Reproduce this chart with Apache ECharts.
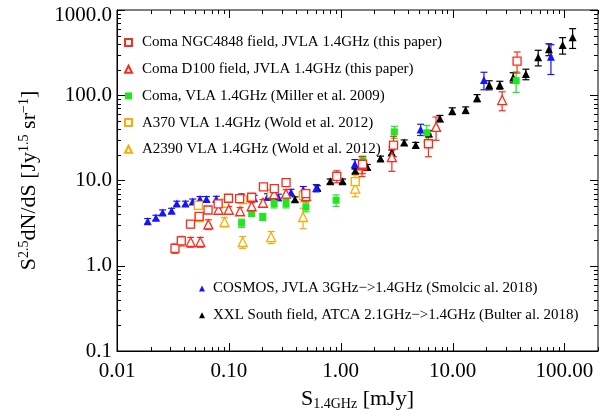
<!DOCTYPE html>
<html>
<head>
<meta charset="UTF-8">
<title>counts</title>
<script src="https://cdn.jsdelivr.net/npm/echarts@6/dist/echarts.min.js"></script>
<style>
  html, body { margin: 0; padding: 0; background: #fff; }
  #main { width: 605px; height: 418px; }
</style>
</head>
<body>
<div id="main"></div>
<script type="text/javascript">
// --- data (x: mJy, y: S^2.5 dN/dS, err: +/- linear) ---
var cosmosX = [0.0188, 0.0223, 0.0256, 0.0308, 0.0342, 0.0409, 0.0475, 0.0552, 0.0631, 0.0773, 0.101, 0.130, 0.168, 0.222, 0.277, 0.360, 0.463, 0.605, 1.34, 5.19, 19.1, 75.9];
var cosmosY = [3.33, 3.66, 4.22, 4.42, 5.37, 5.37, 5.66, 6.08, 6.08, 6.08, 6.19, 6.45, 6.19, 6.45, 6.36, 7.28, 7.80, 8.16, 15.6, 39.7, 151, 283];
var cosmosErr = [0.25, 0.25, 0.3, 0.3, 0.35, 0.35, 0.4, 0.4, 0.4, 0.45, 0.5, 0.5, 0.5, 0.55, 0.55, 0.6, 0.7, 0.8, 2.0, 6, 35, 108];

var xxlX = [0.390, 0.618, 0.807, 1.04, 1.35, 1.73, 2.27, 2.86, 3.70, 4.69, 6.15, 7.72, 9.95, 13.1, 16.6, 21.3, 26.5, 34.9, 45.3, 58.4, 72.8, 96.5, 118.6];
var xxlY = [6.03, 8.18, 9.81, 9.81, 13.0, 14.4, 18.1, 21.3, 27.9, 26.0, 35.6, 53.5, 65.2, 67.0, 92.7, 131.8, 131.8, 162, 177, 279, 346, 389, 479];
var xxlErr = [0.4, 0.5, 0.6, 0.6, 0.8, 1.0, 1.2, 1.5, 2.0, 2.0, 3.0, 4.5, 6, 6, 9, 16, 14, 22, 25, 58, 55, 85, 125];

var redSqX = [0.0330, 0.0376, 0.0454, 0.0543, 0.0652, 0.0803, 0.0993, 0.125, 0.160, 0.204, 0.255, 0.325, 0.488, 0.923, 1.57, 2.97, 6.09, 37.8];
var redSqY = [1.60, 1.96, 3.08, 3.80, 4.51, 5.31, 6.19, 6.14, 6.36, 8.41, 8.01, 9.42, 7.03, 11.2, 15.5, 26.0, 27.0, 252];
var redSqErr = [0.2, 0.25, 0.3, 0.35, 0.4, 0.45, 0.5, 0.5, 0.5, 0.6, 0.6, 0.8, 0.8, 1.8, 3.5, 7, 8, 70];

var redTrX = [0.0456, 0.0556, 0.0656, 0.0809, 0.0998, 0.126, 0.160, 0.202, 0.254, 0.325, 0.491, 1.55, 2.87, 7.13, 27.8];
var redTrY = [1.90, 1.90, 3.06, 4.54, 4.54, 4.36, 4.99, 5.48, 6.90, 7.00, 6.54, 15.1, 18.8, 42.6, 87.8];
var redTrErr = [0.25, 0.25, 0.4, 0.4, 0.4, 0.45, 0.5, 0.5, 0.7, 0.8, 0.8, 4, 6, 13, 22];

var greenX = [0.130, 0.160, 0.201, 0.254, 0.325, 0.489, 0.910, 1.58, 3.02, 5.89, 37.1];
var greenY = [3.17, 4.09, 3.75, 5.37, 5.37, 4.89, 5.87, 17.0, 37.2, 36.2, 148];
var greenErr = [0.35, 0.3, 0.35, 0.6, 0.6, 0.6, 0.9, 2.3, 6, 8, 40];

var orSqX = [0.0534, 0.0544, 0.0920, 0.133, 0.241, 0.464, 1.35];
var orSqY = [5.12, 3.66, 5.41, 5.98, 7.00, 6.63, 9.68];
var orSqErr = [0.4, 0.3, 0.5, 0.6, 0.7, 1.0, 1.9];

var orTrX = [0.0915, 0.133, 0.239, 0.461, 1.35];
var orTrY = [3.26, 1.90, 2.17, 3.73, 8.05];
var orTrErr = [0.4, 0.3, 0.35, 1.0, 1.6];

var topLegend = [
    'Coma NGC4848 field, JVLA 1.4GHz (this paper)',
    'Coma D100 field, JVLA 1.4GHz (this paper)',
    'Coma, VLA 1.4GHz (Miller et al. 2009)',
    'A370 VLA 1.4GHz (Wold et al. 2012)',
    'A2390 VLA 1.4GHz (Wold et al. 2012)'
];
var bottomLegend = [
    'COSMOS, JVLA 3GHz\u2212>1.4GHz (Smolcic al. 2018)',
    'XXL South field, ATCA 2.1GHz\u2212>1.4GHz (Bulter al. 2018)'
];

var xTickMajor = [0.01, 0.1, 1, 10, 100];
var yTickMajor = [0.1, 1, 10, 100, 1000];
var xMin = 0.01, xMax = 200, yMin = 0.1, yMax = 1000;

var FONT = 'Liberation Serif';

function zip(xs, ys, es) {
    var out = [];
    for (var i = 0; i < xs.length; i++) out.push([xs[i], ys[i], es[i]]);
    return out;
}

function isDecade(v) {
    var l = Math.log10(v);
    return Math.abs(l - Math.round(l)) < 1e-6;
}

// tick marks on all four sides (minor ones at 2..9 x decade)
var tickData = [];
xTickMajor.forEach(function (d) {
    tickData.push([d, 1, 1]);
    for (var m = 2; m <= 9; m++) {
        var v = d * m;
        if (v <= xMax * 1.0001) tickData.push([v, 1, 0]);
    }
});
yTickMajor.forEach(function (d) {
    tickData.push([1, d, 3]);
    for (var m = 2; m <= 9; m++) {
        var v = d * m;
        if (v <= yMax * 1.0001) tickData.push([1, v, 2]);
    }
});

function renderTicks(params, api) {
    var cs = params.coordSys;
    var kind = api.value(2);
    var len = (kind === 1 || kind === 3) ? 8 : 4;
    var st = { stroke: '#000', lineWidth: 1 };
    if (kind < 2) {
        var px = Math.round(api.coord([api.value(0), 1])[0]) + 0.5;
        return { type: 'group', children: [
            { type: 'line', shape: { x1: px, y1: cs.y + cs.height, x2: px, y2: cs.y + cs.height - len }, style: st },
            { type: 'line', shape: { x1: px, y1: cs.y, x2: px, y2: cs.y + len }, style: st }
        ]};
    }
    var py = Math.round(api.coord([1, api.value(1)])[1]) + 0.5;
    return { type: 'group', children: [
        { type: 'line', shape: { x1: cs.x, y1: py, x2: cs.x + len, y2: py }, style: st },
        { type: 'line', shape: { x1: cs.x + cs.width, y1: py, x2: cs.x + cs.width - len, y2: py }, style: st }
    ]};
}

function errBars(color) {
    return function (params, api) {
        var x = api.value(0), y = api.value(1), e = api.value(2);
        var hi = api.coord([x, y + e]);
        var lo = api.coord([x, Math.max(y - e, yMin * 0.5)]);
        var cx = hi[0], w = 3.5;
        var st = { stroke: color, lineWidth: 1.2 };
        return { type: 'group', children: [
            { type: 'line', shape: { x1: cx, y1: hi[1], x2: cx, y2: lo[1] }, style: st },
            { type: 'line', shape: { x1: cx - w, y1: hi[1], x2: cx + w, y2: hi[1] }, style: st },
            { type: 'line', shape: { x1: cx - w, y1: lo[1], x2: cx + w, y2: lo[1] }, style: st }
        ]};
    };
}

function errSeries(data, color) {
    return {
        type: 'custom', renderItem: errBars(color), data: data,
        encode: { x: 0, y: 1 }, silent: true, z: 2
    };
}

function pointSeries(name, data, symbol, size, color, hollow) {
    return {
        name: name, type: 'scatter', data: data, symbol: symbol, symbolSize: size,
        encode: { x: 0, y: 1 },
        itemStyle: hollow ? { color: '#fff', borderColor: color, borderWidth: 1.3, opacity: 1 }
                          : { color: color, opacity: 1 },
        z: 3
    };
}

var RED = '#ff2a1a', BLUE = '#1414ff', GREEN = '#22e622', ORANGE = '#ffaa00', BLACK = '#000000';

var xxl = zip(xxlX, xxlY, xxlErr);
var cosmos = zip(cosmosX, cosmosY, cosmosErr);
var green = zip(greenX, greenY, greenErr);
var orSq = zip(orSqX, orSqY, orSqErr);
var orTr = zip(orTrX, orTrY, orTrErr);
var redSq = zip(redSqX, redSqY, redSqErr);
var redTr = zip(redTrX, redTrY, redTrErr);

var option = {
    animation: false,
    backgroundColor: '#fff',
    grid: { left: 117, right: 7, top: 10, bottom: 67, show: true, borderColor: '#000', borderWidth: 1, backgroundColor: 'transparent' },
    xAxis: {
        type: 'log', logBase: 10, min: xMin, max: xMax,
        axisLine: { show: true, lineStyle: { color: '#000', width: 1 } },
        axisTick: { show: false }, splitLine: { show: false },
        axisLabel: {
            fontFamily: FONT, fontSize: 21, color: '#000', margin: 10,
            formatter: function (v) { return isDecade(v) ? v.toFixed(2) : ''; }
        },
        name: '{b|S}{sub|1.4GHz}{b| [mJy]}',
        nameLocation: 'middle', nameGap: 36,
        nameTextStyle: {
            fontFamily: FONT, color: '#000',
            rich: {
                b: { fontFamily: FONT, fontSize: 22, lineHeight: 24, color: '#000' },
                sub: { fontFamily: FONT, fontSize: 14, lineHeight: 14, verticalAlign: 'bottom', color: '#000' }
            }
        }
    },
    yAxis: {
        type: 'log', logBase: 10, min: yMin, max: yMax,
        axisLine: { show: true, lineStyle: { color: '#000', width: 1 } },
        axisTick: { show: false }, splitLine: { show: false },
        axisLabel: {
            fontFamily: FONT, fontSize: 21, color: '#000', margin: 5,
            formatter: function (v) {
                if (!isDecade(v)) return '';
                if (v > 500) return '{t|' + v.toFixed(1) + '}';
                return v.toFixed(1);
            },
            rich: { t: { fontFamily: FONT, fontSize: 21, color: '#000', padding: [10, 0, 0, 0] } }
        },
        name: '{b|S}{sup|2.5}{b|dN/dS [Jy}{sup|1.5}{b| sr}{sup|\u22121}{b|]}',
        nameLocation: 'middle', nameGap: 76, nameRotate: 90,
        nameTextStyle: {
            fontFamily: FONT, color: '#000',
            rich: {
                b: { fontFamily: FONT, fontSize: 22, lineHeight: 24, color: '#000' },
                sup: { fontFamily: FONT, fontSize: 14, lineHeight: 14, verticalAlign: 'top', color: '#000' }
            }
        }
    },
    legend: [{
        data: topLegend, orient: 'vertical', left: 124, top: 35, padding: 0,
        itemWidth: 7, itemHeight: 7, itemGap: 11.7, selectedMode: false,
        textStyle: { fontFamily: FONT, fontSize: 15, color: '#000', padding: [0, 0, 0, 5] }
    }, {
        data: bottomLegend, orient: 'vertical', left: 199, top: 281, padding: 0,
        itemWidth: 6, itemHeight: 6, itemGap: 11.7, selectedMode: false,
        textStyle: { fontFamily: FONT, fontSize: 15, color: '#000', padding: [0, 0, 0, 3] }
    }],
    series: [
        { type: 'custom', renderItem: renderTicks, data: tickData, encode: { x: 0, y: 1 }, silent: true, z: 1 },
        errSeries(xxl, BLACK),
        pointSeries(bottomLegend[1], xxl, 'triangle', 8, BLACK, false),
        errSeries(cosmos, BLUE),
        pointSeries(bottomLegend[0], cosmos, 'triangle', 8, BLUE, false),
        errSeries(green, GREEN),
        pointSeries(topLegend[2], green, 'rect', 7, GREEN, false),
        errSeries(orTr, ORANGE),
        pointSeries(topLegend[4], orTr, 'triangle', 9, ORANGE, true),
        errSeries(orSq, ORANGE),
        pointSeries(topLegend[3], orSq, 'rect', 8, ORANGE, true),
        errSeries(redTr, RED),
        pointSeries(topLegend[1], redTr, 'triangle', 9, RED, true),
        errSeries(redSq, RED),
        pointSeries(topLegend[0], redSq, 'rect', 8, RED, true)
    ]
};

var myChart = echarts.init(document.getElementById('main'), null, { renderer: 'canvas' });
myChart.setOption(option);
</script>
</body>
</html>
